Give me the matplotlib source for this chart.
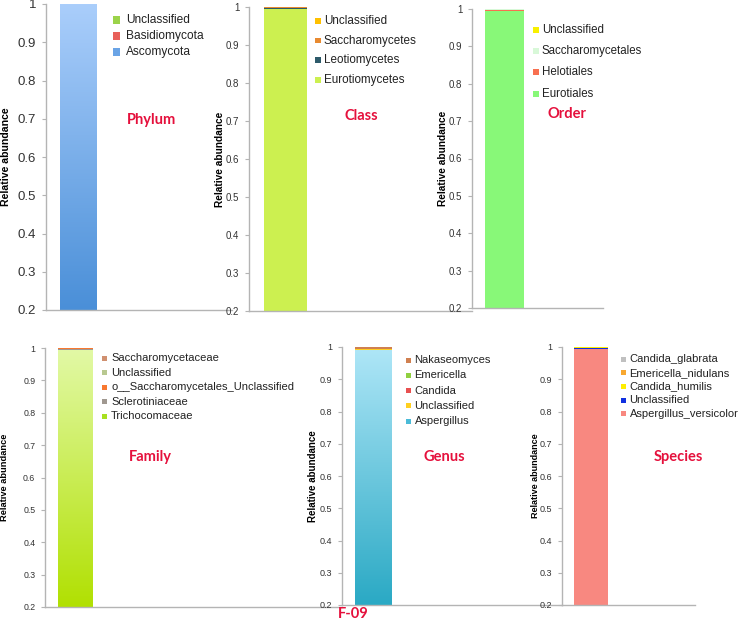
import matplotlib
matplotlib.use("Agg")
import matplotlib.pyplot as plt
from matplotlib.colors import LinearSegmentedColormap
from matplotlib.patches import Rectangle
import numpy as np

plt.rcParams["font.family"] = ["Liberation Sans", "DejaVu Sans"]

W, H = 738, 621

# --- data (bottom of stack first) ---
phylum_labels = ["Ascomycota", "Basidiomycota", "Unclassified"]
phylum_values = [0.9995, 0.0003, 0.0002]
phylum_colors = ["#6aa4e6", "#e8605a", "#9bd34a"]

class_labels = ["Eurotiomycetes", "Leotiomycetes", "Saccharomycetes", "Unclassified"]
class_values = [0.994, 0.003, 0.002, 0.001]
class_colors = ["#ccf050", "#2d5a6a", "#e88a30", "#ffc000"]

order_labels = ["Eurotiales", "Helotiales", "Saccharomycetales", "Unclassified"]
order_values = [0.995, 0.003, 0.0015, 0.0005]
order_colors = ["#88f878", "#f87050", "#d8f8d8", "#f8f000"]

family_labels = ["Trichocomaceae", "Sclerotiniaceae", "o__Saccharomycetales_Unclassified",
                 "Unclassified", "Saccharomycetaceae"]
family_values = [0.995, 0.003, 0.0005, 0.0005, 0.001]
family_colors = ["#a8e020", "#a09890", "#f87830", "#b8c890", "#d09070"]

genus_labels = ["Aspergillus", "Unclassified", "Candida", "Emericella", "Nakaseomyces"]
genus_values = [0.992, 0.001, 0.0005, 0.0005, 0.006]
genus_colors = ["#4bbbd8", "#ffd020", "#e85050", "#90d040", "#d08050"]

species_labels = ["Aspergillus_versicolor", "Unclassified", "Candida_humilis",
                  "Emericella_nidulans", "Candida_glabrata"]
species_values = [0.994, 0.003, 0.002, 0.0005, 0.0005]
species_colors = ["#f88880", "#1030e0", "#ffee00", "#f8a830", "#c0c0c0"]

yticks = [0.2, 0.3, 0.4, 0.5, 0.6, 0.7, 0.8, 0.9, 1.0]
ytick_labels = ["0.2", "0.3", "0.4", "0.5", "0.6", "0.7", "0.8", "0.9", "1"]

# gradients for the dominant segment (top colour, bottom colour)
gradients = {
    "Phylum": ("#aacefb", "#4a8fd8"),
    "Family": ("#e2f9a6", "#b1e002"),
    "Genus": ("#aee6f7", "#2aa9c4"),
}

panels = [
    # name, labels, values, colors, layout
    ("Phylum", phylum_labels, phylum_values, phylum_colors,
     dict(box=(46, 232, 4, 310), bar=(60, 97), tick=9.5, ylab=7.6, ylab_x=6,
          leg=(113, 20, 16, 8.6, 7, 13), title=(152, 120))),
    ("Class", class_labels, class_values, class_colors,
     dict(box=(249, 472, 7, 311), bar=(264, 307), tick=7, ylab=7.3, ylab_x=220,
          leg=(315, 21, 19.6, 8.4, 5.5, 9), title=(361, 116))),
    ("Order", order_labels, order_values, order_colors,
     dict(box=(472, 603, 9, 308), bar=(485, 524), tick=7, ylab=7.3, ylab_x=443,
          leg=(533, 30, 21.2, 8.3, 6, 9), title=(567, 114))),
    ("Family", family_labels, family_values, family_colors,
     dict(box=(45, 342, 348, 607), bar=(58, 93), tick=6.3, ylab=6.7, ylab_x=5,
          leg=(102, 358, 14.6, 8.0, 5, 9), title=(150, 457))),
    ("Genus", genus_labels, genus_values, genus_colors,
     dict(box=(342, 562, 347, 605), bar=(355, 392), tick=6.5, ylab=7.0, ylab_x=313,
          leg=(406, 360, 15.3, 8.0, 5, 8.5), title=(444, 457))),
    ("Species", species_labels, species_values, species_colors,
     dict(box=(562, 695, 347, 605), bar=(574, 608), tick=6.5, ylab=6.5, ylab_x=535,
          leg=(621, 359, 13.7, 8.0, 5, 8.5), title=(678, 457))),
]

TITLE_RED = "#e5103c"

fig = plt.figure(figsize=(W / 100, H / 100), dpi=100)


def fx(px):
    return px / W


def fy(py):
    return 1 - py / H


for name, labels, values, colors, lay in panels:
    x0, x1, ytop, ybot = lay["box"]
    ax = fig.add_axes([fx(x0), fy(ybot), fx(x1 - x0), (ybot - ytop) / H])
    ax.patch.set_alpha(0)
    bar_w = 0.6
    scale = (lay["bar"][1] - lay["bar"][0]) / bar_w
    barc = (lay["bar"][0] + lay["bar"][1]) / 2

    bottom = 0.0
    for i, (v, c) in enumerate(zip(values, colors)):
        bars = ax.bar(0, v, bottom=bottom, width=bar_w, color=c, linewidth=0, zorder=2)
        if i == 0 and name in gradients:
            top_c, bot_c = gradients[name]
            cmap = LinearSegmentedColormap.from_list(name, [bot_c, top_c])
            grad = np.linspace(0, 1, 256).reshape(-1, 1)
            img = ax.imshow(grad, cmap=cmap, origin="lower", aspect="auto",
                            extent=(-bar_w / 2, bar_w / 2, 0.2, bottom + v), zorder=2.5)
            img.set_clip_path(bars.patches[0])
        bottom += v
    ax.set_xlim(-(barc - x0) / scale, (x1 - barc) / scale)
    ax.set_ylim(0.2, 1.0)

    for s in ["top", "right"]:
        ax.spines[s].set_visible(False)
    for s in ["left", "bottom"]:
        ax.spines[s].set_color("#b4b4b4")
        ax.spines[s].set_linewidth(1.0)
    ax.set_xticks([])
    ax.set_yticks(yticks)
    ax.set_yticklabels(ytick_labels)
    ax.tick_params(axis="y", length=3, width=0.8, color="#b4b4b4",
                   labelsize=lay["tick"], labelcolor="#333333", pad=4)

    fig.text(fx(lay["ylab_x"]), fy((ytop + ybot) / 2), "Relative abundance",
             rotation=90, ha="center", va="center", fontsize=lay["ylab"],
             fontweight="bold", color="black")

    # legend: last stacked item listed first
    lx, ly, dy, lfs, sq, gap = lay["leg"]
    for k, (lab, c) in enumerate(zip(labels[::-1], colors[::-1])):
        cy = ly + k * dy
        fig.add_artist(Rectangle((fx(lx), fy(cy + sq / 2)), sq / W, sq / H,
                                 transform=fig.transFigure, facecolor=c,
                                 edgecolor="none"))
        fig.text(fx(lx + gap), fy(cy), lab, ha="left", va="center",
                 fontsize=lfs, color="#222222")

    tx, ty = lay["title"]
    fig.text(fx(tx), fy(ty), name, ha="center", va="center", fontsize=10.5,
             fontweight="bold", color=TITLE_RED, family=["Lato", "DejaVu Sans"])

fig.text(fx(353), fy(614), "F-09", ha="center", va="center", fontsize=10.5,
         fontweight="bold", color=TITLE_RED, family=["Lato", "DejaVu Sans"])

fig.savefig("out.png", dpi=100)
